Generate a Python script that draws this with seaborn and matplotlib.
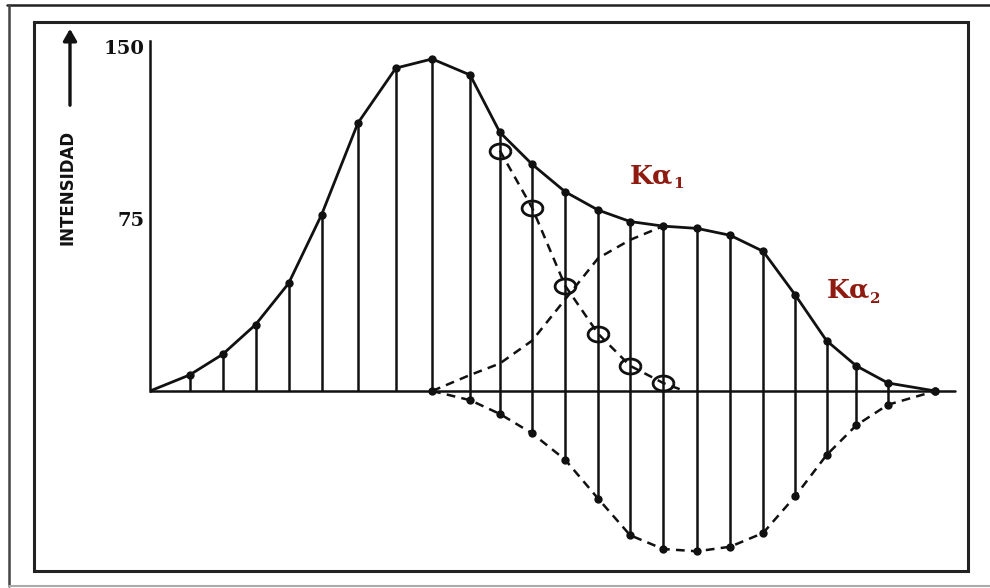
import numpy as np
import seaborn as sns
import matplotlib
matplotlib.use("Agg")
import matplotlib.pyplot as plt
from matplotlib.lines import Line2D
from matplotlib.path import Path

# Total measured profile (solid line with dots)
x_total = [0, 1.2, 2.2, 3.2, 4.2, 5.2, 6.3, 7.45, 8.55, 9.7, 10.6, 11.58, 12.58,
           13.58, 14.55, 15.55, 16.58, 17.58, 18.58, 19.55, 20.5, 21.4, 22.36, 23.8]
y_total = [0, 7, 16, 29, 47, 77, 117, 141, 145, 138, 113, 99, 87,
           79, 74, 72, 71, 68, 61, 42, 22, 11, 3.5, 0]

# K-alpha1 tail (open circles, dashed)
x_ka1 = [10.6, 11.58, 12.58, 13.58, 14.55, 15.55]
y_ka1 = [105, 80, 46, 25, 11, 3.5]
x_ka1_end = 16.2

# K-alpha2 rising part (dashed, above baseline)
x_ka2_up = [8.55, 9.7, 10.6, 11.58, 12.58, 13.58, 14.55, 15.55]
y_ka2_up = [0, 7, 12, 22, 40, 58, 66, 72]

# K-alpha2 drawn mirrored below the baseline (dashed with dots)
x_ka2_low = [8.55, 9.7, 10.6, 11.58, 12.58, 13.58, 14.55, 15.55, 16.58, 17.58,
             18.58, 19.55, 20.5, 21.4, 22.36, 23.8]
y_ka2_low = [0, 4, 10, 18.5, 30, 47, 63, 69, 70, 68, 62, 46, 28, 15, 6, 0]

ytick_vals = [75, 150]
ytick_labels = ["75", "150"]

sns.set_theme(style="white")
plt.rcParams["font.family"] = ["DejaVu Sans"]

W, H = 990, 588
fig = plt.figure(figsize=(W / 100, H / 100), dpi=100)
ax = fig.add_axes([150 / W, 1 - 571 / H, (968 - 150) / W, (571 - 22) / H])
ax.set_xlim(0, (968 - 150) / 33)
ax.set_ylim(-(571 - 391) / 2.29, (391 - 22) / 2.29)

ink = "#111111"
dash = (0, (3.5, 2.5))

# vertical lines from the profile down to baseline or to the mirrored K-alpha2
low_map = dict(zip(x_ka2_low, y_ka2_low))
for xv, yv in zip(x_total[1:-1], y_total[1:-1]):
    bottom = -low_map.get(xv, 0)
    ax.vlines(xv, bottom, yv, color=ink, lw=1.8)

# baseline and y axis
ax.plot([0, 24.4], [0, 0], color=ink, lw=1.8)
for s in ["top", "right", "bottom"]:
    ax.spines[s].set_visible(False)
ax.spines["left"].set_bounds(0, 153)
ax.spines["left"].set_color(ink)
ax.spines["left"].set_linewidth(1.8)
ax.set_xticks([])
ax.set_yticks(ytick_vals)
ax.set_yticklabels(ytick_labels, family="DejaVu Serif", fontweight="bold",
                   fontsize=14, color=ink)
ax.tick_params(axis="y", length=0, pad=4)

sns.lineplot(x=x_total, y=y_total, ax=ax, color=ink, lw=2.0, marker="o",
             markersize=6, markeredgewidth=0, sort=False,
             markevery=list(range(1, len(x_total))))
sns.lineplot(x=x_ka2_up, y=y_ka2_up, ax=ax, color=ink, lw=1.8, linestyle=dash,
             sort=False)
sns.lineplot(x=x_ka2_low, y=[-v for v in y_ka2_low], ax=ax, color=ink, lw=1.8,
             linestyle=dash, marker="o", markersize=6, markeredgewidth=0, sort=False)
sns.lineplot(x=x_ka1 + [x_ka1_end], y=y_ka1 + [0], ax=ax, color=ink, lw=1.8,
             linestyle=dash, sort=False)

# slightly flattened open circles, as in the scan
t = np.linspace(0, 2 * np.pi, 40)
oval = Path(np.column_stack([np.cos(t), 0.72 * np.sin(t)]))
ax.plot(x_ka1, y_ka1, linestyle="none", marker=oval, markersize=15,
        markerfacecolor="none", markeredgecolor=ink, markeredgewidth=2.0)

# K-alpha labels
red = "#8e1a10"
for (lx, ly, sub) in [(14.55, 94, "1"), (20.5, 44, "2")]:
    t_main = ax.text(lx, ly, "Kα", color=red, fontsize=19, fontweight="bold",
                     family="DejaVu Serif", ha="left", va="center")
    ax.annotate(sub, xy=(1, 0.15), xycoords=t_main, xytext=(0, 0),
                textcoords="offset points", color=red, fontsize=11,
                fontweight="bold", family="DejaVu Serif", ha="left", va="center")

# y label with arrow
fig.text(67 / W, 1 - 187 / H, "INTENSIDAD", rotation=90, ha="center", va="center",
         fontsize=12, fontweight="bold", color=ink,
         family=["Liberation Sans Narrow", "DejaVu Sans"])
fig.add_artist(matplotlib.patches.FancyArrowPatch(
    (70 / W, 1 - 108 / H), (70 / W, 1 - 26 / H), transform=fig.transFigure,
    arrowstyle="-|>,head_length=7,head_width=4", color=ink, lw=2.4))

# frames
fig.add_artist(plt.Rectangle((34 / W, 1 - 571 / H), (968 - 34) / W, (571 - 22) / H,
                             transform=fig.transFigure, fill=False, lw=2.2,
                             ec="#222222"))
fig.add_artist(Line2D([7 / W, 1], [1 - 5 / H, 1 - 5 / H], transform=fig.transFigure,
                      color="#222222", lw=1.8))
fig.add_artist(Line2D([9 / W, 9 / W], [1 - 5 / H, 1 - 586 / H],
                      transform=fig.transFigure, color="#444444", lw=1.8))
fig.add_artist(Line2D([9 / W, 1], [1 - 586 / H, 1 - 586 / H],
                      transform=fig.transFigure, color="#aaaaaa", lw=1.5))

fig.savefig("out.png", dpi=100)
